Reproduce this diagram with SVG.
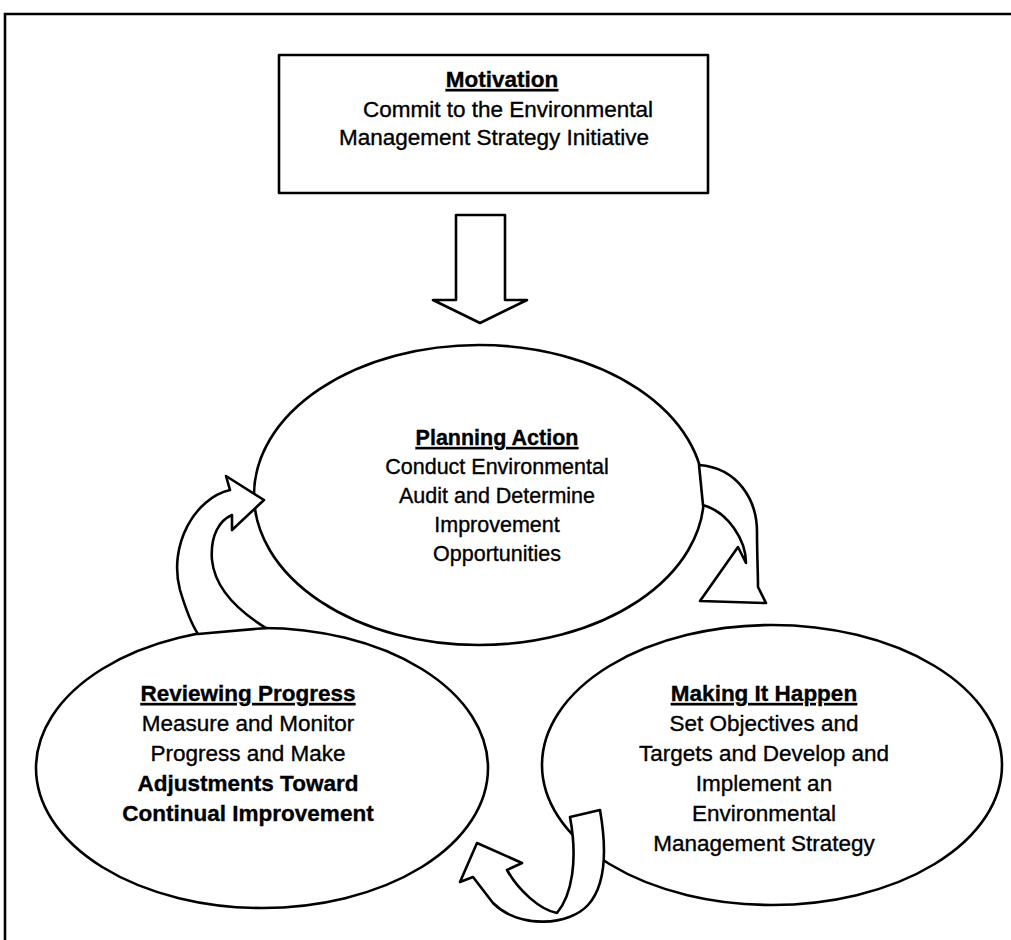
<svg xmlns="http://www.w3.org/2000/svg" width="1011" height="940" viewBox="0 0 1011 940">
<style>
.ln{fill:none;stroke:#000;stroke-width:2.6}
.shp{fill:#fff;stroke:#000;stroke-width:2.6;stroke-linejoin:round}
.t{font-family:"Liberation Sans",Arial,sans-serif;font-size:22.5px;fill:#000;stroke:#000;stroke-width:0.35;text-anchor:middle}
.h{font-weight:bold;text-decoration:underline}
.b{font-weight:bold}
.s{font-size:21.5px}
</style>
<rect width="1011" height="940" fill="#fff"/>
<path class="ln" d="M5,940 V14 H1011"/>
<g id="motivation">
<rect class="shp" x="279" y="55" width="429" height="138" stroke-width="2.2"/>
<text class="t h" x="502" y="87">Motivation</text>
<text class="t" x="508" y="117">Commit to the Environmental</text>
<text class="t" x="494" y="145">Management Strategy Initiative</text>
</g>
<g id="planning">
<ellipse class="shp" cx="479" cy="495" rx="225" ry="150"/>
<text class="t s h" x="497" y="445">Planning Action</text>
<text class="t s" x="497" y="474">Conduct Environmental</text>
<text class="t s" x="497" y="503">Audit and Determine</text>
<text class="t s" x="497" y="532">Improvement</text>
<text class="t s" x="497" y="561">Opportunities</text>
</g>
<g id="reviewing">
<ellipse class="shp" cx="262" cy="768" rx="226" ry="140"/>
<text class="t h" x="248" y="701">Reviewing Progress</text>
<text class="t" x="248" y="731">Measure and Monitor</text>
<text class="t" x="248" y="761">Progress and Make</text>
<text class="t b" x="248" y="791">Adjustments Toward</text>
<text class="t b" x="248" y="821">Continual Improvement</text>
</g>
<g id="making">
<ellipse class="shp" cx="772" cy="765" rx="230" ry="140"/>
<text class="t h" x="764" y="701">Making It Happen</text>
<text class="t" x="764" y="731">Set Objectives and</text>
<text class="t" x="764" y="761">Targets and Develop and</text>
<text class="t" x="764" y="791">Implement an</text>
<text class="t" x="764" y="821">Environmental</text>
<text class="t" x="764" y="851">Management Strategy</text>
</g>
<g id="connectors">
<polygon class="shp" points="456,215 505,215 505,300 527,300 480,323 433,300 456,300"/>
<path class="shp" d="M699,465 C738,468 757,500 757,532 C757,555 758,572 758,587 L766,603 L700,601 L738,547 L746,563 C746,540 728,512 703,505 Z"/>
<path class="shp" d="M600,810 C607,850 606,885 588,905 C570,925 520,930 493,903 L473,877 L460,882 L477,843 L522,863 L507,870 C518,890 540,910 557,913 C572,895 578,860 570,817 Z"/>
<path class="shp" d="M198,634 C192,625 186,610 180,590 C168,545 195,498 230,490 L226,476 L264,500 L232,530 L232,515 C220,520 210,535 212,560 C215,590 240,612 266,628 Z"/>
</g>
</svg>
